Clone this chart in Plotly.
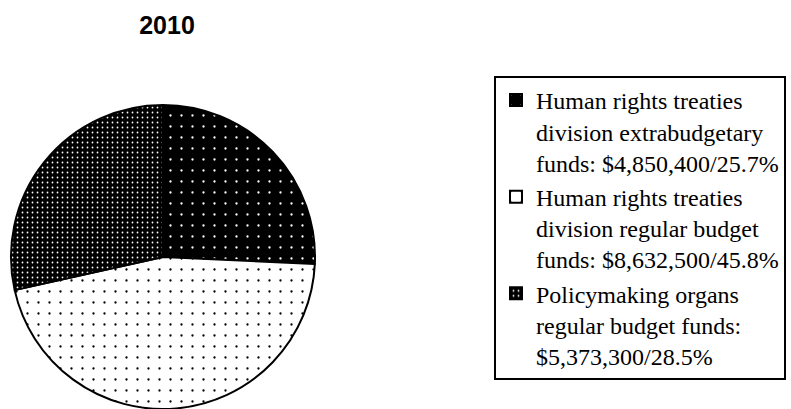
import plotly.graph_objects as go

labels = [
    "Human rights treaties<br>division extrabudgetary<br>funds: $4,850,400/25.7%",
    "Human rights treaties<br>division regular budget<br>funds: $8,632,500/45.8%",
    "Policymaking organs<br>regular budget funds:<br>$5,373,300/28.5%",
]
values = [4850400, 8632500, 5373300]
title_text = "2010"

fig = go.Figure(go.Pie(
    labels=labels,
    values=values,
    sort=False,
    direction="clockwise",
    rotation=0,
    textinfo="none",
    hoverinfo="label",
    marker=dict(
        colors=["black", "white", "black"],
        line=dict(color="black", width=2),
        pattern=dict(
            shape=[".", ".", "."],
            bgcolor=["black", "white", "black"],
            fgcolor=["white", "black", "white"],
            size=[11, 11, 5],
            solidity=[0.035, 0.035, 0.1],
        ),
    ),
    domain=dict(x=[10 / 791, 316 / 791], y=[0, 304 / 409]),
))

fig.update_layout(
    width=791,
    height=409,
    margin=dict(l=0, r=0, t=0, b=0),
    paper_bgcolor="white",
    plot_bgcolor="white",
    title=dict(
        text="<b>" + title_text + "</b>",
        x=167 / 791,
        xanchor="center",
        y=1 - 25 / 409,
        yanchor="middle",
        font=dict(family="Liberation Sans, Arial", size=25, color="black"),
    ),
    legend=dict(
        x=494 / 791,
        xanchor="left",
        y=1 - 76 / 409,
        yanchor="top",
        bordercolor="black",
        borderwidth=2,
        bgcolor="white",
        valign="top",
        font=dict(family="Liberation Serif, Times New Roman", size=24, color="black"),
        itemwidth=30,
        tracegroupgap=0,
    ),
)

fig.write_html(
    "out.html",
    config={"displayModeBar": False},
    post_script="document.body.style.margin='0';",
)
